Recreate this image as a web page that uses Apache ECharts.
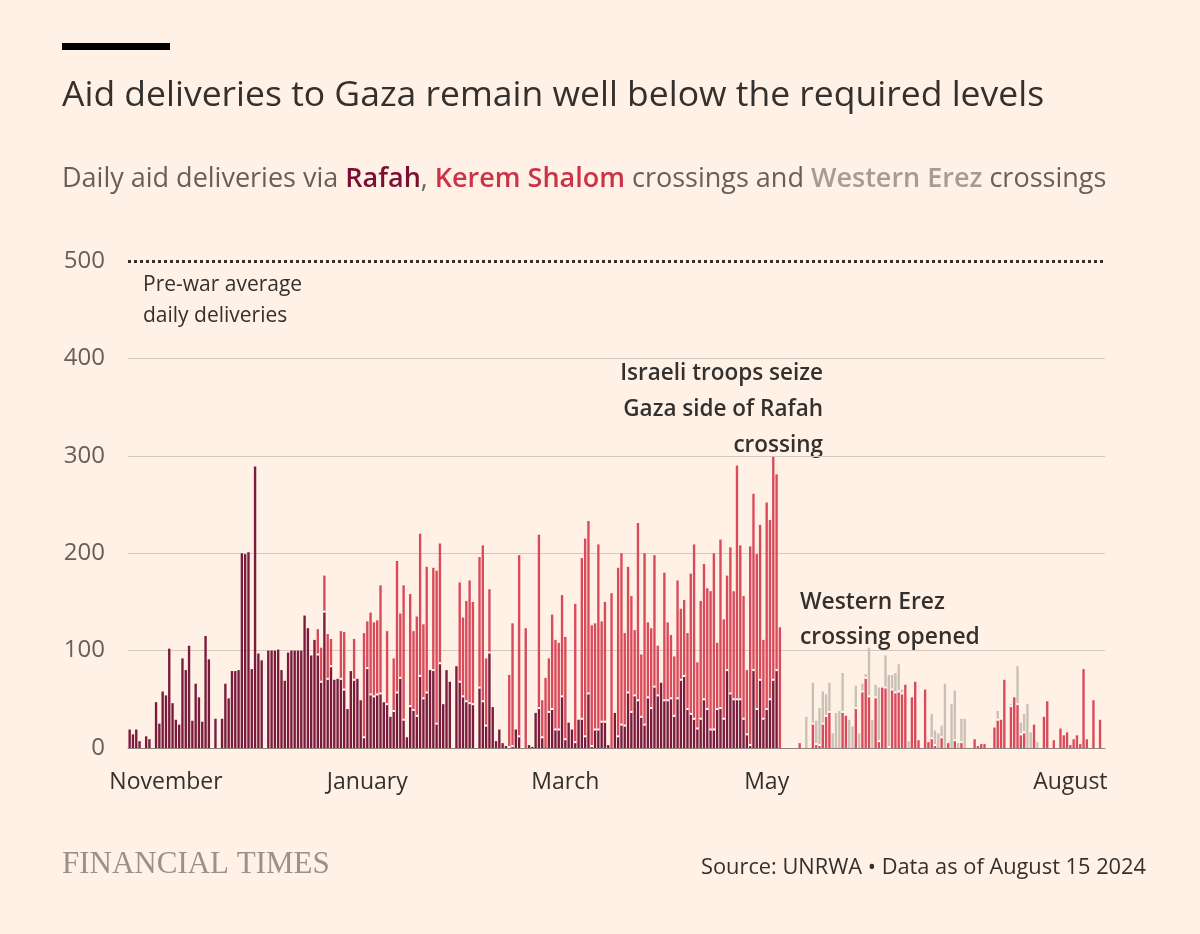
<!DOCTYPE html>
<html>
<head>
<meta charset="utf-8">
<title>Aid deliveries to Gaza</title>
<script src="https://cdn.jsdelivr.net/npm/echarts@6/dist/echarts.min.js"></script>
<style>
  html, body { margin: 0; padding: 0; background: #fff1e5; }
  #chart { width: 1200px; height: 934px; }
</style>
</head>
<body>
<div id="chart"></div>
<script>
// daily trucks (UNRWA data)
const firstDay = '2023-10-21';
const lastDay = '2024-08-11';

// Rafah: from 21 Oct 2023 until the crossing was seized
const rafahStart = '2023-10-21';
const rafah = [
  19, 14, 19, 7, 0, 12, 9, 0, 47, 25,
  58, 54, 102, 46, 29, 24, 92, 80, 105, 28,
  66, 52, 27, 115, 91, 0, 30, 0, 30, 66,
  51, 79, 79, 80, 200, 199, 201, 81, 289, 97,
  90, 0, 100, 100, 100, 101, 80, 69, 98, 100,
  100, 100, 100, 136, 123, 95, 111, 96, 68, 140,
  71, 84, 70, 71, 71, 60, 40, 79, 70, 71,
  49, 11, 82, 55, 53, 55, 56, 47, 45, 32,
  38, 57, 72, 29, 11, 43, 39, 33, 74, 51,
  57, 80, 80, 25, 87, 45, 80, 68, 0, 84,
  68, 53, 48, 46, 45, 0, 62, 48, 23, 98,
  42, 7, 19, 5, 2, 1, 2, 19, 12, 0,
  0, 3, 1, 36, 41, 11, 0, 37, 40, 19,
  19, 53, 9, 26, 19, 6, 29, 30, 12, 56,
  2, 19, 19, 27, 27, 3, 0, 36, 12, 24,
  23, 57, 37, 54, 49, 32, 24, 52, 41, 63,
  54, 67, 49, 49, 51, 33, 51, 70, 74, 40,
  35, 30, 20, 30, 50, 40, 19, 19, 40, 41,
  30, 80, 56, 50, 50, 50, 30, 14, 3, 80,
  40, 70, 30, 40, 50, 70, 80, 0
];

// Kerem Shalom: reopened 17 Dec 2023
const keremStart = '2023-12-17';
const keremShalom = [
  26, 35, 37,
  46, 28, 0, 0, 49, 59, 0, 0, 42, 0,
  0, 107, 48, 84, 76, 76, 111, 0, 75, 0,
  54, 135, 66, 138, 0, 115, 81, 102, 146, 76,
  129, 0, 105, 157, 123, 0, 0, 0, 0, 0,
  102, 81, 103, 126, 105, 0, 134, 160, 69, 65,
  0, 0, 0, 0, 0, 74, 126, 0, 186, 0,
  123, 0, 0, 0, 178, 38, 72, 55, 97, 92,
  89, 104, 105, 0, 0, 142, 0, 165, 203, 177,
  124, 109, 190, 103, 123, 0, 159, 0, 173, 176,
  95, 129, 119, 67, 182, 64, 176, 77, 82, 135,
  51, 0, 131, 80, 65, 61, 121, 73, 78, 78,
  144, 179, 68, 121, 139, 124, 142, 181, 68, 173,
  102, 97, 150, 111, 240, 158, 126, 66, 204, 181,
  159, 159, 81, 212, 184, 229, 201, 124, 0, 0,
  0, 0, 0, 5, 0, 0, 0, 25, 4, 3,
  25, 33, 37, 0, 0, 0, 37, 33, 0, 0,
  41, 0, 58, 72, 53, 0, 52, 7, 62, 62,
  1, 60, 57, 58, 56, 65, 0, 52, 68, 8,
  0, 60, 6, 10, 3, 0, 11, 0, 5, 0,
  8, 0, 6, 0, 0, 0, 9, 2, 4, 4,
  0, 0, 21, 29, 29, 70, 0, 43, 52, 45,
  14, 16, 0, 0, 24, 0, 0, 32, 48, 0,
  8, 0, 20, 13, 16, 3, 9, 13, 4, 81,
  9, 0, 49, 0, 29, 0
];

// Western Erez: opened mid May 2024
const erezStart = '2024-05-13';
const westernErez = [
  32, 0, 42, 24, 38, 33, 22, 30, 15, 36,
  38, 40, 0, 29, 22, 23, 15, 8, 4, 50,
  29, 13, 55, 0, 33, 74, 15, 20, 28, 4,
  0, 7, 0, 0, 0, 0, 0, 0, 25, 15,
  15, 12, 66, 0, 45, 51, 5, 24, 30, 0,
  0, 0, 0, 0, 0, 0, 0, 0, 9, 0,
  0, 0, 2, 0, 39, 12, 19, 45, 16, 0, 6
];

const tickDates = ['2023-11-01', '2024-01-01', '2024-03-01', '2024-05-01', '2024-08-01'];
const tickLabels = ['November', 'January', 'March', 'May', 'August'];
const preWarAverage = 500;

const DAY = 86400000;
const toTime = s => Date.parse(s + 'T00:00:00Z');
const dayIndex = s => Math.round((toTime(s) - toTime(firstDay)) / DAY);

const days = [];
for (let t = toTime(firstDay); t <= toTime(lastDay); t += DAY) {
  days.push(new Date(t).toISOString().slice(0, 10));
}

function place(values, start) {
  const off = dayIndex(start);
  return days.map((d, i) => {
    const v = values[i - off];
    return v === undefined ? 0 : v;
  });
}

const rafahData = place(rafah, rafahStart);
const keremData = place(keremShalom, keremStart);
const erezData = place(westernErez, erezStart);

// little white marks where two crossings are stacked
const joins = [];
days.forEach((d, i) => {
  if (rafahData[i] > 0 && (keremData[i] > 0 || erezData[i] > 0)) joins.push([i, rafahData[i]]);
  if (keremData[i] > 0 && erezData[i] > 0) joins.push([i, rafahData[i] + keremData[i]]);
});

const tickIdx = tickDates.map(dayIndex);
const showTick = idx => tickIdx.indexOf(idx) !== -1;

const barPart = 0.72;
const sans = '"Open Sans", Lato, sans-serif';

const myChart = echarts.init(document.getElementById('chart'));

const option = {
  backgroundColor: '#fff1e5',
  animation: false,
  grid: { left: 128, right: 95, top: 261, bottom: 186 },
  xAxis: {
    type: 'category',
    data: days,
    axisLine: { lineStyle: { color: '#8f8680', width: 1 } },
    axisTick: { interval: (i) => showTick(i), alignWithLabel: true, length: 7, lineStyle: { color: '#8f8680' } },
    axisLabel: {
      interval: (i) => showTick(i),
      formatter: (v, i) => tickLabels[tickIdx.indexOf(i)] || '',
      color: '#33302e',
      fontFamily: sans,
      fontSize: 23,
      margin: 23
    }
  },
  yAxis: {
    type: 'value',
    min: 0,
    max: 500,
    interval: 100,
    axisLine: { show: false },
    axisTick: { show: false },
    axisLabel: { color: '#66605c', fontFamily: sans, fontSize: 24, margin: 23, padding: [6, 0, 0, 0] },
    splitLine: {
      lineStyle: { color: ['#d4c9bf', '#d4c9bf', '#d4c9bf', '#d4c9bf', '#d4c9bf', 'rgba(0,0,0,0)'], width: 1 }
    }
  },
  series: [
    {
      name: 'Rafah',
      type: 'bar',
      stack: 'aid',
      barWidth: (barPart * 100) + '%',
      data: rafahData,
      itemStyle: { color: '#7a1b3d' },
      markLine: {
        silent: true,
        symbol: ['none', 'none'],
        label: { show: false },
        lineStyle: { color: '#33302e', type: [3, 3], width: 3 },
        data: [{ yAxis: preWarAverage }]
      }
    },
    {
      name: 'Kerem Shalom',
      type: 'bar',
      stack: 'aid',
      data: keremData,
      itemStyle: { color: '#d94a5b' }
    },
    {
      name: 'Western Erez',
      type: 'bar',
      stack: 'aid',
      data: erezData,
      itemStyle: { color: '#cbc0b6' }
    },
    {
      type: 'custom',
      z: 5,
      data: joins,
      renderItem: (params, api) => {
        const p = api.coord([api.value(0), api.value(1)]);
        const w = api.size([1, 0])[0] * barPart;
        return {
          type: 'rect',
          shape: { x: p[0] - w / 2, y: p[1] - 1, width: w, height: 2 },
          style: { fill: '#ffffff' }
        };
      }
    }
  ],
  graphic: [
    { type: 'rect', left: 62, top: 43, shape: { width: 108, height: 7 }, style: { fill: '#000000' } },
    {
      type: 'text', x: 62, y: 96,
      style: {
        text: 'Aid deliveries to Gaza remain well below the required levels',
        font: '35.5px ' + sans, fill: '#33302e', textVerticalAlign: 'middle'
      }
    },
    {
      type: 'text', x: 62, y: 179,
      style: {
        text: '{n|Daily aid deliveries via }{r|Rafah}{n|, }{k|Kerem Shalom}{n| crossings and }{e|Western Erez}{n| crossings}',
        textVerticalAlign: 'middle',
        rich: {
          n: { fontFamily: sans, fontSize: 27, fill: '#66605c' },
          r: { fontFamily: sans, fontSize: 27, fontWeight: 600, fill: '#7a0f33' },
          k: { fontFamily: sans, fontSize: 27, fontWeight: 600, fill: '#cc3349' },
          e: { fontFamily: sans, fontSize: 27, fontWeight: 600, fill: '#a59c95' }
        }
      }
    },
    {
      type: 'text', x: 143, y: 301,
      style: {
        text: 'Pre-war average\ndaily deliveries',
        font: '21px ' + sans, fill: '#33302e', lineHeight: 31, textVerticalAlign: 'middle'
      }
    },
    {
      type: 'text', x: 823, y: 410,
      style: {
        text: 'Israeli troops seize\nGaza side of Rafah\ncrossing',
        font: '600 22.5px ' + sans, fill: '#33302e', lineHeight: 36,
        textAlign: 'right', textVerticalAlign: 'middle'
      }
    },
    {
      type: 'text', x: 800, y: 620,
      style: {
        text: 'Western Erez\ncrossing opened',
        font: '600 22.8px ' + sans, fill: '#33302e', lineHeight: 35, textVerticalAlign: 'middle'
      }
    },
    {
      type: 'text', x: 62, y: 865,
      style: {
        text: 'FINANCIAL TIMES',
        font: '31px "Liberation Serif", "DejaVu Serif", serif', fill: '#9b918a', textVerticalAlign: 'middle'
      }
    },
    {
      type: 'text', x: 1146, y: 868,
      style: {
        text: 'Source: UNRWA \u2022 Data as of August 15 2024',
        font: '21.8px ' + sans, fill: '#33302e', textAlign: 'right', textVerticalAlign: 'middle'
      }
    }
  ]
};

myChart.setOption(option);
</script>
</body>
</html>
